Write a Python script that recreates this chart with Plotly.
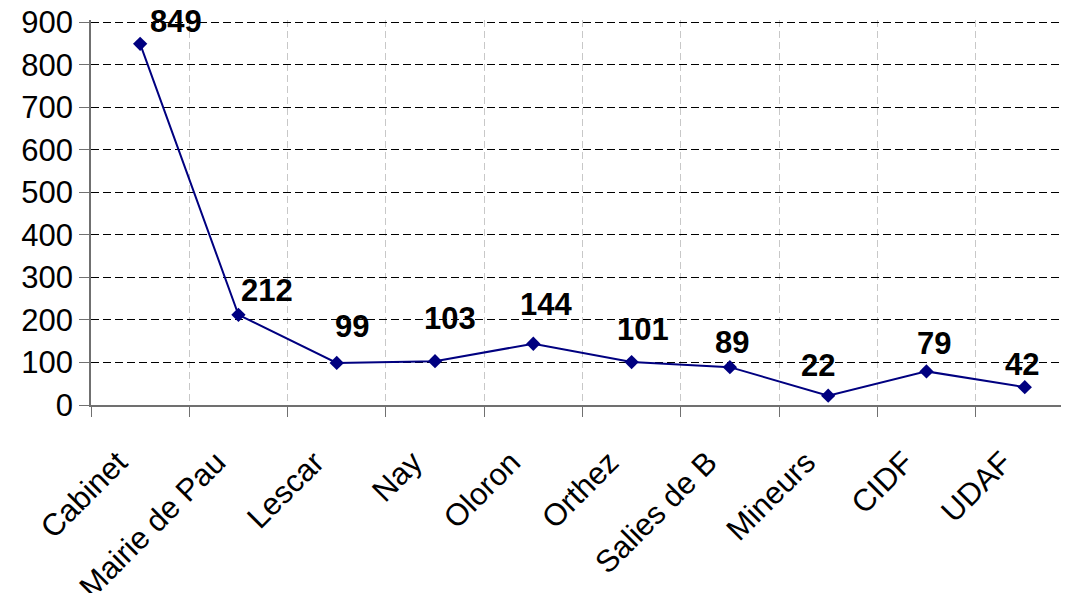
import plotly.graph_objects as go

categories = ["Cabinet", "Mairie de Pau", "Lescar", "Nay", "Oloron", "Orthez",
              "Salies de B", "Mineurs", "CIDF", "UDAF"]
values = [849, 212, 99, 103, 144, 101, 89, 22, 79, 42]
y_ticks = [0, 100, 200, 300, 400, 500, 600, 700, 800, 900]

# label offsets in pixels (style only)
label_dx = [36, 29, 15, 15, 13, 11, 2, -10, 8, -3]
label_dy = [22, 24, 36, 43, 39, 33, 25, 30, 28, 23]

FONT = "Liberation Sans, Arial, sans-serif"
NAVY = "#000080"
FS = 31

fig = go.Figure()
fig.add_trace(go.Scatter(
    x=categories, y=values, mode="lines+markers",
    line=dict(color=NAVY, width=2),
    marker=dict(symbol="diamond", size=11, color=NAVY),
    cliponaxis=False, showlegend=False,
))

for c, v, dx, dy in zip(categories, values, label_dx, label_dy):
    fig.add_annotation(x=c, y=v, text=f"<b>{v}</b>", showarrow=False,
                       xshift=dx, yshift=dy, borderpad=0,
                       font=dict(family=FONT, size=FS, color="black"))

fig.update_layout(
    width=1061, height=585,
    margin=dict(l=83, r=0, t=12, b=188),
    paper_bgcolor="white", plot_bgcolor="white",
    font=dict(family=FONT, size=FS, color="black"),
)
fig.update_xaxes(
    type="category", range=[-0.5, 9.45], automargin=False,
    tickson="boundaries", ticks="outside", ticklen=10, tickcolor="#707070",
    showline=True, linecolor="#707070", linewidth=1.5,
    showgrid=True, gridcolor="#c8c8c8", griddash="7px,4px", gridwidth=1,
    tickangle=-45, tickfont=dict(family=FONT, size=FS, color="black"),
    ticklabelstandoff=25, ticklabelshift=-22, ticklabeloverflow="allow",
)
fig.update_yaxes(
    range=[0, 905], tickvals=y_ticks, ticktext=[str(t) for t in y_ticks],
    automargin=False, ticklabeloverflow="allow",
    ticks="outside", ticklen=10, tickcolor="#707070",
    showline=True, linecolor="#707070", linewidth=1.5,
    showgrid=True, gridcolor="black", griddash="8px,4px", gridwidth=1,
    zeroline=False,
    tickfont=dict(family=FONT, size=FS, color="black"),
)

fig.write_html("out.html")
